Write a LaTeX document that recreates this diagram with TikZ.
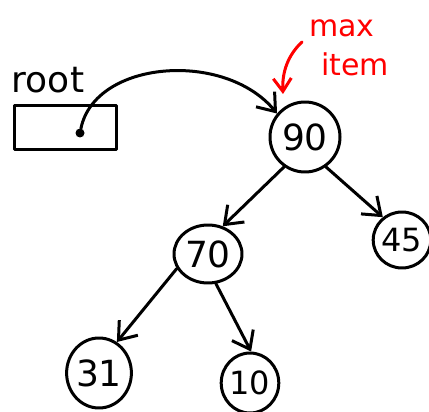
\documentclass[tikz,border=0pt]{standalone}
\usepackage{fontspec}
\setmainfont{DejaVu Sans}
\usetikzlibrary{arrows.meta,shapes.geometric}
\begin{document}
\begin{tikzpicture}[x=1pt,y=-1pt,
  ink/.style={line width=3pt,line cap=round,line join=round},
  treenode/.style={ink,draw,ellipse,inner sep=0pt,font=\fontsize{36}{36}\selectfont},
  edge/.style={ink,-{Straight Barb[length=16pt,width=24pt,line width=3pt]}},
  note/.style={text=red,font=\fontsize{30}{30}\selectfont,align=left}]
\useasboundingbox (0,0) rectangle (429,412);
% pointer variable box
\node[font=\fontsize{36}{36}\selectfont] (rootlabel) at (48,80) {root};
\draw[ink] (14,106) rectangle (116,150);
\node[circle,fill,inner sep=0pt,minimum size=9pt] (dot) at (80,133) {};
% heap nodes
\node[treenode,minimum width=70pt,minimum height=70pt] (n90) at (305,137) {90};
\node[treenode,minimum width=68pt,minimum height=58pt] (n70) at (208,254) {70};
\node[treenode,minimum width=52pt,minimum height=56pt,font=\fontsize{32}{32}\selectfont] (n45) at (402,240) {45};
\node[treenode,minimum width=62pt,minimum height=70pt] (n31) at (99,373) {31};
\node[treenode,minimum width=46pt,minimum height=60pt,font=\fontsize{32}{32}\selectfont] (n10) at (250,383) {10};
% root pointer
\draw[edge] (dot) .. controls (95,60) and (225,50) .. (n90.140);
% tree edges
\draw[edge] (n90.235) -- (n70.62);
\draw[edge] (n90.305) -- (n45.130);
\draw[edge] (n70.205) -- (n31.60);
\draw[edge] (n70.285) -- (n10.88);
% annotation
\node[note] (maxlbl) at (342,28) {max};
\node[note] (itemlbl) at (355,64) {item};
\coordinate (redstart) at (302,42);
\coordinate (redend) at (283,94);
\draw[ink,red,-{Straight Barb[length=13pt,width=18pt,line width=3pt]}] (redstart) .. controls (288,55) and (282,72) .. (redend);
\end{tikzpicture}
\end{document}
